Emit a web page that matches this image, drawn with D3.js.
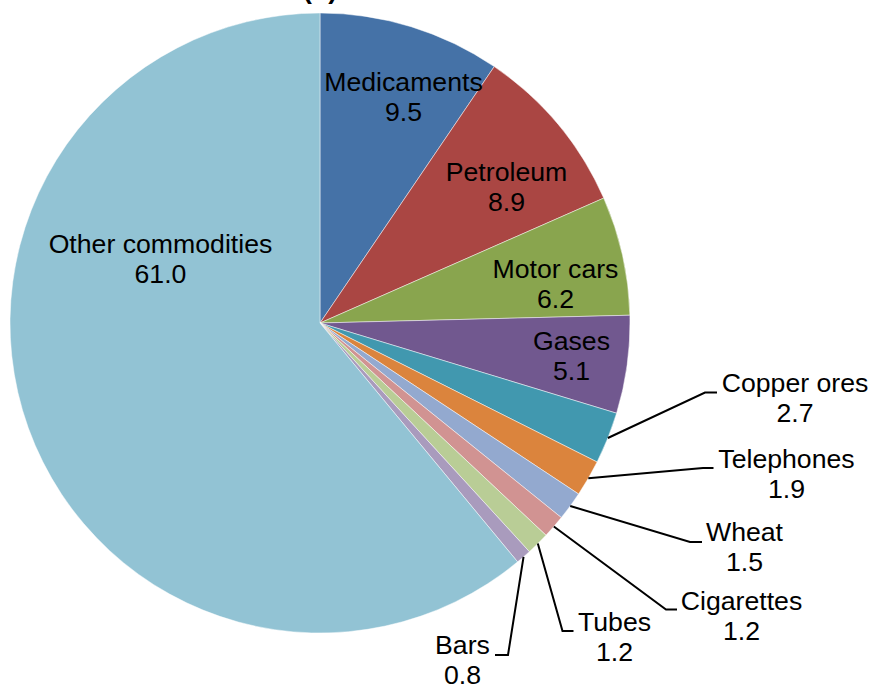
<!DOCTYPE html>
<html>
<head>
<meta charset="utf-8">
<script src="https://cdn.jsdelivr.net/npm/d3@7"></script>
<style>
  html, body { margin: 0; padding: 0; background: #fff; }
  svg { display: block; }
  text { font-family: "Liberation Sans", Arial, sans-serif; font-size: 26.67px; fill: #000; }
</style>
</head>
<body>
<svg id="chart" width="870" height="687"></svg>
<script>
// ---- data ----
const categories = ["Medicaments", "Petroleum", "Motor cars", "Gases", "Copper ores",
  "Telephones", "Wheat", "Cigarettes", "Tubes", "Bars", "Other commodities"];
const values = [9.5, 8.9, 6.2, 5.1, 2.7, 1.9, 1.5, 1.2, 1.2, 0.8, 61.0];
const colors = ["#4572A7", "#AA4643", "#89A54E", "#71588F", "#4198AF",
  "#DB843D", "#93A9CF", "#D19392", "#B9CD96", "#A99BBD", "#92C3D4"];
const titleText = "(b)";

// ---- layout (label anchor: centre x, first-line baseline y; leader elbow and end) ----
const labelLayout = {
  "Medicaments":       { x: 403.5, y: 91 },
  "Petroleum":         { x: 506.5, y: 180.5 },
  "Motor cars":        { x: 555.5, y: 277.5 },
  "Gases":             { x: 571.5, y: 349.5 },
  "Other commodities": { x: 160.5, y: 253 },
  "Copper ores":       { x: 795,   y: 392,   elbow: [705, 392.5], end: [717, 392.5] },
  "Telephones":        { x: 786.5, y: 467.5, elbow: [703, 468],   end: [713.5, 468] },
  "Wheat":             { x: 744.5, y: 540.5, elbow: [690, 542],   end: [702, 542] },
  "Cigarettes":        { x: 741.5, y: 610,   elbow: [666, 609.5], end: [677, 609.5] },
  "Tubes":             { x: 614.5, y: 631,   elbow: [562.5, 631], end: [573.5, 631] },
  "Bars":              { x: 462.5, y: 654,   elbow: [508, 655],   end: [495, 655] }
};
const lineGap = 30;

const cx = 320, cy = 323, R = 310;
const svg = d3.select("#chart");

svg.append("text")
  .attr("x", cx).attr("y", -1.5)
  .attr("text-anchor", "middle")
  .style("font-weight", "bold")
  .text(titleText);

const data = categories.map((c, i) => ({ name: c, value: values[i], color: colors[i] }));
const pie = d3.pie().sort(null).value(d => d.value);
const arcs = pie(data);
const arc = d3.arc().innerRadius(0).outerRadius(R);

const g = svg.append("g").attr("transform", `translate(${cx},${cy})`);
g.selectAll("path.slice")
  .data(arcs)
  .enter().append("path")
  .attr("class", "slice")
  .attr("d", arc)
  .attr("fill", d => d.data.color)
  .attr("stroke", "#ffffff")
  .attr("stroke-opacity", 0.6)
  .attr("stroke-width", 0.8);

// leader lines
arcs.forEach(a => {
  const L = labelLayout[a.data.name];
  if (!L.elbow) return;
  const mid = (a.startAngle + a.endAngle) / 2;
  const sx = cx + R * Math.sin(mid), sy = cy - R * Math.cos(mid);
  svg.append("path")
    .attr("d", d3.line()([[sx, sy], L.elbow, L.end]))
    .attr("fill", "none")
    .attr("stroke", "#000")
    .attr("stroke-width", 2);
});

// labels
arcs.forEach(a => {
  const L = labelLayout[a.data.name];
  const t = svg.append("text").attr("text-anchor", "middle");
  t.append("tspan").attr("x", L.x).attr("y", L.y).text(a.data.name);
  t.append("tspan").attr("x", L.x).attr("y", L.y + lineGap).text(a.data.value.toFixed(1));
});
</script>
</body>
</html>
